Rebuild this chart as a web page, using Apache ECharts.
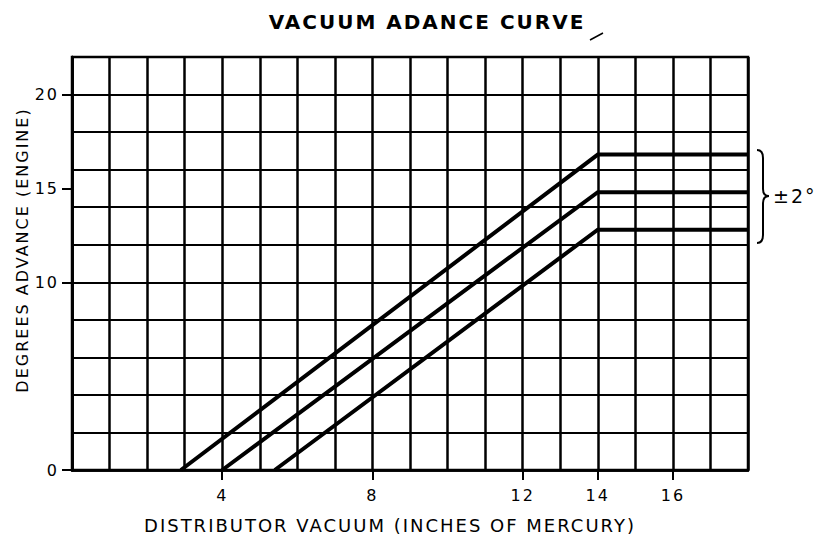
<!DOCTYPE html>
<html>
<head>
<meta charset="utf-8">
<script src="https://cdn.jsdelivr.net/npm/echarts@6/dist/echarts.min.js"></script>
<style>
html,body{margin:0;padding:0;background:#fff}
#c{width:825px;height:540px}
#c svg text{letter-spacing:2px}
</style>
</head>
<body>
<div id="c"></div>
<script>
const titleText = 'VACUUM ADANCE CURVE';
const xTitle = 'DISTRIBUTOR VACUUM (INCHES OF MERCURY)';
const yTitle = 'DEGREES ADVANCE (ENGINE)';
const xTickLabels = [4, 8, 12, 14, 16];
const yTickLabels = [0, 10, 15, 20];
const upperCurve = [[2.9, 0], [14, 16.8], [18, 16.8]];
const middleCurve = [[4.0, 0], [14, 14.8], [18, 14.8]];
const lowerCurve = [[5.4, 0], [14, 12.8], [18, 12.8]];
const toleranceLabel = '±2°';

const FONT = 'DejaVu Sans';
const chart = echarts.init(document.getElementById('c'), null, {renderer: 'svg'});
const lineSeries = (name, data) => ({
  name, type: 'line', data, symbol: 'none', silent: true,
  xAxisIndex: 0, yAxisIndex: 0,
  lineStyle: {color: '#000', width: 4, cap: 'butt', join: 'miter'}, z: 5
});
const braceStyle = {fill: null, stroke: '#000', lineWidth: 2};
const quad = (x1, y1, cx, cy, x2, y2) => ({
  type: 'bezierCurve', silent: true,
  shape: {x1, y1, cpx1: cx, cpy1: cy, x2, y2}, style: braceStyle
});
const seg = (x1, y1, x2, y2) => ({
  type: 'line', silent: true, shape: {x1, y1, x2, y2}, style: braceStyle
});
const axisLine = {show: true, lineStyle: {color: '#000', width: 2.5}};
const tickLabelStyle = {fontFamily: FONT, fontSize: 16, color: '#000'};

chart.setOption({
  animation: false,
  backgroundColor: '#fff',
  title: {
    text: titleText, left: 422, textAlign: 'center', top: 7,
    textStyle: {fontFamily: FONT, fontSize: 20, fontWeight: 'bold', color: '#000'}
  },
  grid: {left: 72, right: 77, top: 57, bottom: 70, show: true, borderColor: '#000', borderWidth: 2.5, backgroundColor: 'transparent'},
  xAxis: [
    {
      type: 'value', min: 0, max: 18, interval: 1, position: 'bottom',
      axisLine, axisTick: {show: false}, axisLabel: {show: false},
      splitLine: {show: true, lineStyle: {color: '#000', width: 2.5}}
    },
    {
      type: 'value', min: 0, max: 18, position: 'bottom',
      axisLine,
      axisTick: {show: true, customValues: xTickLabels, length: 10, lineStyle: {color: '#000', width: 2}},
      axisLabel: Object.assign({customValues: xTickLabels, margin: 17}, tickLabelStyle),
      splitLine: {show: false}
    }
  ],
  yAxis: [
    {
      type: 'value', min: 0, max: 22, interval: 2, position: 'left',
      axisLine, axisTick: {show: false}, axisLabel: {show: false},
      splitLine: {show: true, lineStyle: {color: '#000', width: 2}}
    },
    {
      type: 'value', min: 0, max: 22, position: 'left',
      axisLine,
      axisTick: {show: true, customValues: yTickLabels, length: 10, lineStyle: {color: '#000', width: 2}},
      axisLabel: Object.assign({customValues: yTickLabels, margin: 13}, tickLabelStyle),
      splitLine: {show: false}
    }
  ],
  series: [
    lineSeries('upper', upperCurve),
    lineSeries('nominal', middleCurve),
    lineSeries('lower', lowerCurve)
  ],
  graphic: [
    {
      type: 'text', silent: true, x: 390, y: 525,
      style: {text: xTitle, fontFamily: FONT, fontSize: 18, fill: '#000', align: 'center', verticalAlign: 'middle'}
    },
    {
      type: 'text', silent: true, x: 22, y: 250, rotation: Math.PI / 2,
      style: {text: yTitle, fontFamily: FONT, fontSize: 16, fill: '#000', align: 'center', verticalAlign: 'middle'}
    },
    quad(757, 150, 763, 150, 763, 158),
    seg(763, 158, 763, 189),
    quad(763, 189, 763, 196, 769, 196),
    quad(769, 196, 763, 196, 763, 203),
    seg(763, 203, 763, 235),
    quad(763, 235, 763, 243, 757, 243),
    {
      type: 'text', x: 773, y: 196, silent: true,
      style: {text: toleranceLabel, fontFamily: FONT, fontSize: 19, fill: '#000', verticalAlign: 'middle'}
    },
    {
      type: 'line', silent: true,
      shape: {x1: 590, y1: 40, x2: 603, y2: 33},
      style: {stroke: '#000', lineWidth: 1.5}
    }
  ]
});
</script>
</body>
</html>
